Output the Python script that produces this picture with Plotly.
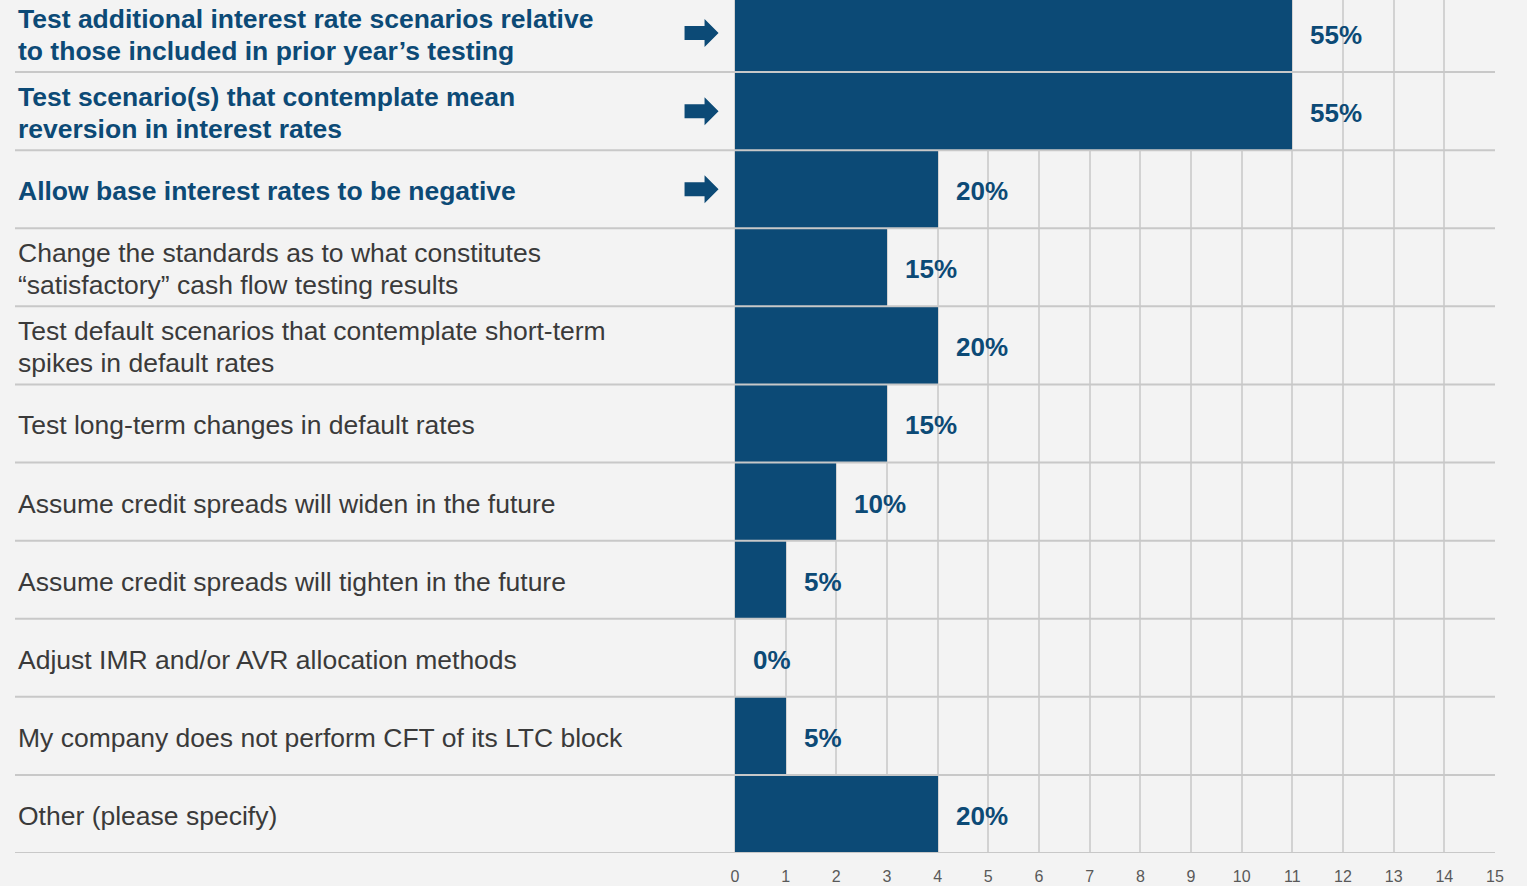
import plotly.graph_objects as go

# Survey responses (count of respondents per option, out of 20)
options = [
    "Test additional interest rate scenarios relative<br>to those included in prior year’s testing",
    "Test scenario(s) that contemplate mean<br>reversion in interest rates",
    "Allow base interest rates to be negative",
    "Change the standards as to what constitutes<br>“satisfactory” cash flow testing results",
    "Test default scenarios that contemplate short-term<br>spikes in default rates",
    "Test long-term changes in default rates",
    "Assume credit spreads will widen in the future",
    "Assume credit spreads will tighten in the future",
    "Adjust IMR and/or AVR allocation methods",
    "My company does not perform CFT of its LTC block",
    "Other (please specify)",
]
counts = [11, 11, 4, 3, 4, 3, 2, 1, 0, 1, 4]
highlighted = [True, True, True, False, False, False, False, False, False, False, False]
respondents = 20
tick_values = list(range(0, 16))

BLUE = "#0c4a76"
TEXT = "#3a3a3a"
BG = "#f3f3f3"
FONT = "Liberation Sans, Arial, sans-serif"

W, H = 1527, 886
ML, MR, MT, MB = 15, 32, 0, 33
X_MIN, X_MAX = -14.21, 15
Y_BOTTOM, Y_TOP = 10.5, -0.423
LINE_GAP = 32  # pixel spacing between wrapped label lines

rows = list(range(len(options)))
pcts = [round(c / respondents * 100) for c in counts]

fig = go.Figure()
fig.add_trace(go.Bar(
    x=counts, y=rows, orientation="h",
    marker=dict(color=BLUE, line=dict(width=0)),
    hoverinfo="skip", showlegend=False,
))

annotations = []
for r, label, hl in zip(rows, options, highlighted):
    lines = label.split("<br>")
    n = len(lines)
    for k, line in enumerate(lines):
        offset = ((n - 1) / 2 - k) * LINE_GAP
        annotations.append(dict(
            x=X_MIN, y=r, xref="x", yref="y", xanchor="left", yanchor="middle",
            xshift=1, yshift=offset - 2, align="left", showarrow=False,
            text=f"<b>{line}</b>" if hl else line,
            font=dict(family=FONT, size=26.5, color=BLUE if hl else TEXT),
        ))

for r, c, p in zip(rows, counts, pcts):
    annotations.append(dict(
        x=c, y=r, xref="x", yref="y", xanchor="left", yanchor="middle",
        xshift=16, yshift=-2, showarrow=False,
        text=f"<b>{p}%</b>",
        font=dict(family=FONT, size=26, color=BLUE),
    ))

shapes = []
# Row separators running under the labels and across the bars
for r in rows:
    shapes.append(dict(
        type="line", xref="x", yref="y", x0=X_MIN, x1=X_MAX, y0=r + 0.5, y1=r + 0.5,
        line=dict(color="#c8c8c8", width=2), layer="above",
    ))

# Block arrows pointing at the highlighted options
arrow_path = "M -17,-7 L 3,-7 L 3,-14 L 17,0 L 3,14 L 3,7 L -17,7 Z"
for r, hl in zip(rows, highlighted):
    if hl:
        shapes.append(dict(
            type="path", xref="x", yref="y", xsizemode="pixel", ysizemode="pixel",
            xanchor=-0.66, yanchor=r, path=arrow_path,
            fillcolor=BLUE, line=dict(width=0), layer="above",
        ))

fig.update_layout(
    width=W, height=H,
    margin=dict(l=ML, r=MR, t=MT, b=MB, pad=0),
    paper_bgcolor=BG, plot_bgcolor=BG,
    bargap=0,
    xaxis=dict(
        range=[X_MIN, X_MAX], tickvals=tick_values,
        ticktext=[str(v) for v in tick_values],
        showgrid=True, gridcolor="#d2d2d2", gridwidth=1.5,
        zeroline=False, showline=False, ticks="",
        ticklabelstandoff=12,
        tickfont=dict(family=FONT, size=16, color="#595959"),
    ),
    yaxis=dict(
        range=[Y_BOTTOM, Y_TOP], showgrid=False, zeroline=False,
        showticklabels=False, showline=False, ticks="",
    ),
    annotations=annotations,
    shapes=shapes,
)

fig.write_html("out.html")
